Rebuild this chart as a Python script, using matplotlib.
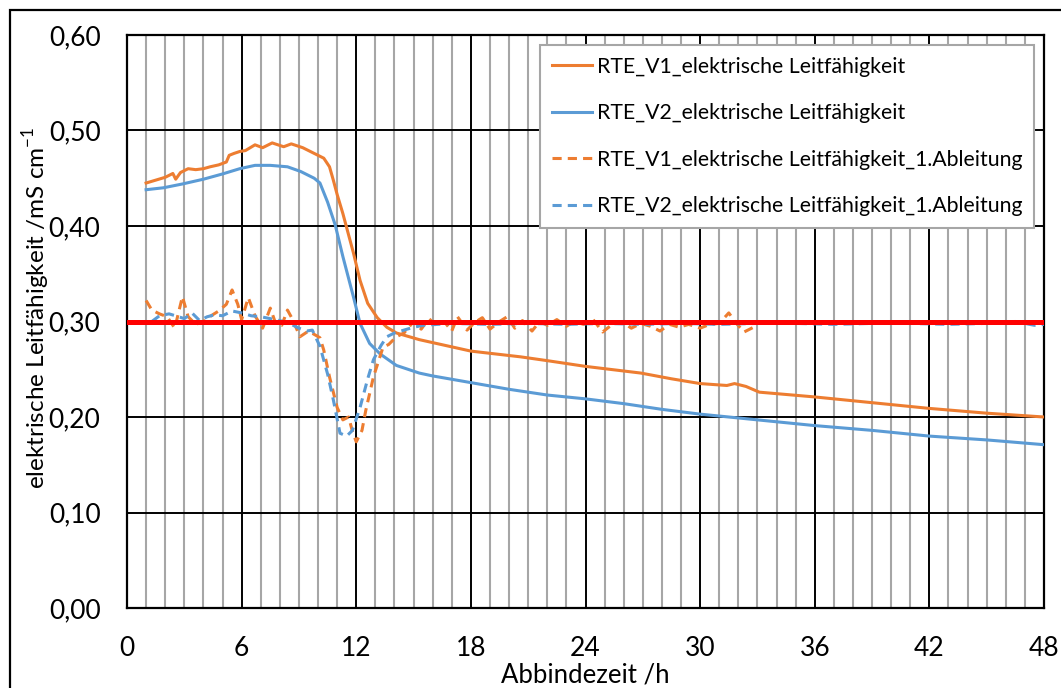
import matplotlib
matplotlib.use("Agg")
import matplotlib.pyplot as plt
from matplotlib.patches import Rectangle
from matplotlib.ticker import MultipleLocator, FuncFormatter

plt.rcParams["font.family"] = ["Lato", "DejaVu Sans"]

C_V1 = "#ed7d31"
C_V2 = "#5b9bd5"

# Leitfähigkeit V1 (mS/cm) über Abbindezeit (h)
t_v1 = [1.0, 1.5, 2.0, 2.4, 2.55, 2.8, 3.2, 3.6, 4.0, 4.35, 4.8, 5.2, 5.35, 5.6, 5.9,
        6.2, 6.7, 7.1, 7.6, 8.2, 8.6, 9.2, 9.9, 10.3, 10.6, 10.8, 11.0, 11.3, 11.85,
        12.2, 12.6, 13.1, 13.6, 14.1, 15.3, 16.2, 18.0, 20.6, 22.0, 24.0, 26.9, 28.5,
        30.0, 31.4, 31.8, 32.4, 33.1, 36.0, 39.0, 42.0, 45.0, 48.0]
lf_v1 = [0.445, 0.448, 0.451, 0.455, 0.449, 0.456, 0.460, 0.459, 0.460, 0.462, 0.464,
         0.467, 0.474, 0.476, 0.478, 0.479, 0.485, 0.482, 0.487, 0.483, 0.486, 0.482,
         0.475, 0.471, 0.462, 0.448, 0.433, 0.413, 0.372, 0.343, 0.319, 0.304, 0.294,
         0.288, 0.281, 0.277, 0.269, 0.263, 0.259, 0.253, 0.246, 0.240, 0.235, 0.233,
         0.235, 0.232, 0.226, 0.221, 0.215, 0.209, 0.204, 0.200]

# Leitfähigkeit V2
t_v2 = [1.0, 1.9, 2.9, 4.0, 5.0, 5.9, 6.7, 7.5, 8.4, 9.1, 9.8, 10.1, 10.5, 10.9, 11.3,
        11.85, 12.2, 12.7, 13.25, 14.1, 15.3, 16.0, 18.0, 20.0, 22.0, 24.0, 26.0,
        28.0, 30.0, 33.0, 36.0, 39.0, 42.0, 45.0, 48.0]
lf_v2 = [0.438, 0.440, 0.444, 0.449, 0.4545, 0.460, 0.4635, 0.4635, 0.462, 0.457,
         0.450, 0.445, 0.425, 0.401, 0.368, 0.326, 0.298, 0.277, 0.266, 0.254, 0.246,
         0.243, 0.236, 0.229, 0.223, 0.219, 0.214, 0.208, 0.203, 0.197, 0.191, 0.186,
         0.180, 0.176, 0.171]

# 1. Ableitung V1
t_d1 = [1.0, 1.3, 1.7, 2.1, 2.5, 2.9, 3.2, 3.6, 4.0, 4.4, 4.8, 5.2, 5.5, 5.8, 6.0,
        6.35, 6.7, 7.1, 7.5, 7.8, 8.1, 8.4, 8.7, 9.05, 9.5, 10.1, 10.3, 10.6, 11.0,
        11.3, 11.6, 11.8, 12.0, 12.3, 12.5, 12.9, 13.4, 13.7, 14.1, 14.5, 15.0, 15.4,
        15.8, 16.2, 16.6, 17.0, 17.3, 17.8, 18.2, 18.6, 19.0, 19.5, 19.9, 20.3, 20.7,
        21.2, 21.6, 22.0, 22.5, 23.0, 23.4, 23.9, 24.4, 24.9, 25.4, 25.9, 26.4, 26.9,
        27.4, 27.9, 28.4, 28.9, 29.4, 30.0, 30.5, 31.0, 31.5, 31.9, 32.3, 32.7, 33.0]
d_v1 = [0.322, 0.312, 0.308, 0.305, 0.293, 0.326, 0.305, 0.297, 0.300, 0.306, 0.311,
        0.318, 0.333, 0.318, 0.302, 0.325, 0.306, 0.293, 0.314, 0.297, 0.296, 0.312,
        0.301, 0.284, 0.290, 0.283, 0.270, 0.242, 0.210, 0.197, 0.200, 0.185, 0.174,
        0.186, 0.207, 0.242, 0.273, 0.276, 0.284, 0.288, 0.300, 0.292, 0.303, 0.296,
        0.300, 0.290, 0.305, 0.291, 0.299, 0.304, 0.292, 0.300, 0.305, 0.293, 0.301,
        0.290, 0.300, 0.296, 0.302, 0.295, 0.300, 0.297, 0.302, 0.289, 0.297, 0.300,
        0.293, 0.298, 0.295, 0.290, 0.297, 0.294, 0.297, 0.293, 0.297, 0.298, 0.309,
        0.298, 0.289, 0.293, 0.296]

# 1. Ableitung V2
t_d2 = [1.3, 1.7, 2.2, 2.7, 3.0, 3.4, 3.8, 4.2, 4.6, 5.0, 5.5, 6.0, 6.5, 7.0, 7.5,
        8.0, 8.5, 9.0, 9.4, 9.7, 10.1, 10.5, 10.8, 11.15, 11.5, 11.8, 12.2, 12.6,
        12.9, 13.3, 13.6, 14.0, 14.5, 15.0, 15.5, 17.0, 19.0, 21.0, 23.0, 25.0, 27.0,
        29.0, 31.0, 33.0, 35.0, 37.0, 39.0, 41.0, 43.0, 45.0, 46.5, 47.5, 48.0]
d_v2 = [0.300, 0.306, 0.308, 0.305, 0.303, 0.309, 0.301, 0.305, 0.307, 0.306, 0.311,
        0.309, 0.306, 0.305, 0.303, 0.301, 0.298, 0.293, 0.290, 0.291, 0.274, 0.245,
        0.218, 0.183, 0.180, 0.186, 0.210, 0.240, 0.260, 0.275, 0.284, 0.288, 0.291,
        0.294, 0.296, 0.298, 0.297, 0.298, 0.297, 0.298, 0.297, 0.298, 0.297, 0.298,
        0.298, 0.297, 0.298, 0.298, 0.297, 0.298, 0.300, 0.296, 0.297]

grenzwert = 0.30
x_ticks = [0, 6, 12, 18, 24, 30, 36, 42, 48]

fig = plt.figure(figsize=(10.61, 6.88), dpi=100)
fig.patches.append(Rectangle((10 / 1061, -0.5), 1.5, 0.5 + 1 - 10 / 688,
                             transform=fig.transFigure, fill=False,
                             ec="black", lw=1.6))
ax = fig.add_axes([127 / 1061, 1 - 608 / 688, 917 / 1061, 573 / 688])

ax.set_xlim(0, 48)
ax.set_ylim(0, 0.6)
ax.set_xticks(x_ticks)
ax.xaxis.set_minor_locator(MultipleLocator(1))
ax.yaxis.set_major_locator(MultipleLocator(0.1))
ax.yaxis.set_major_formatter(FuncFormatter(lambda v, p: f"{v:.2f}".replace(".", ",")))
ax.grid(which="minor", axis="x", color="#a6a6a6", lw=1.5, zorder=0)
ax.grid(which="major", axis="x", color="black", lw=1.4, zorder=0.5)
ax.grid(which="major", axis="y", color="black", lw=1.4, zorder=0.5)
ax.tick_params(which="both", length=0, labelsize=19)
ax.tick_params(axis="x", pad=20)
ax.tick_params(axis="y", pad=19)
for s in ax.spines.values():
    s.set_color("black")
    s.set_linewidth(1.6)

ax.plot(t_v1, lf_v1, color=C_V1, lw=2.2, label="RTE_V1_elektrische Leitfähigkeit", zorder=3)
ax.plot(t_v2, lf_v2, color=C_V2, lw=2.2, label="RTE_V2_elektrische Leitfähigkeit", zorder=3)
ax.plot(t_d1, d_v1, color=C_V1, lw=2.2, dashes=(3, 2),
        label="RTE_V1_elektrische Leitfähigkeit_1.Ableitung", zorder=3)
ax.plot(t_d2, d_v2, color=C_V2, lw=2.2, dashes=(3, 2),
        label="RTE_V2_elektrische Leitfähigkeit_1.Ableitung", zorder=3)
ax.axhline(grenzwert, color="#ff0000", lw=3.6, zorder=4)

ax.set_xlabel("Abbindezeit /h", fontsize=18.5, labelpad=1)
ax.set_ylabel("elektrische Leitfähigkeit /mS cm$^{\\mathregular{-1}}$", fontsize=17.5)
ax.yaxis.set_label_coords(-0.082, 0.524)

leg = ax.legend(loc="upper right", bbox_to_anchor=(0.989, 0.9825), borderaxespad=0,
                fontsize=15.3, frameon=True, fancybox=False, framealpha=1,
                edgecolor="#a6a6a6", labelspacing=1.25, handlelength=1.9,
                handletextpad=0.2, borderpad=0.55)
leg.get_frame().set_linewidth(1.5)
leg.set_zorder(6)

fig.savefig("out.png", dpi=100, facecolor="white")
